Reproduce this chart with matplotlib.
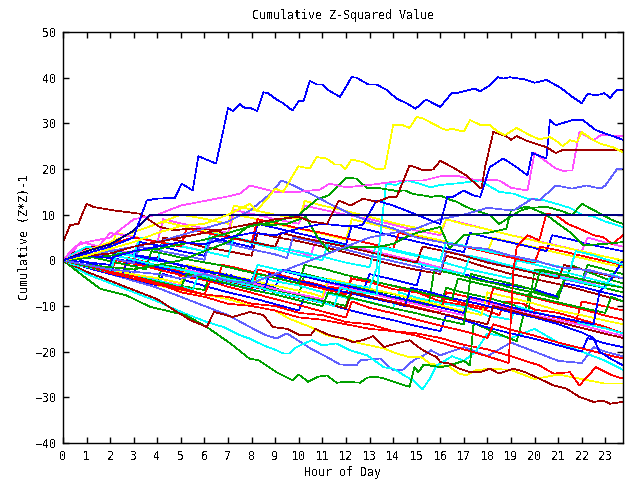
import matplotlib
matplotlib.use("Agg")
import matplotlib.pyplot as plt

plt.rcParams['font.family'] = ['DejaVu Sans Mono']
plt.rcParams['text.antialiased'] = False

BLUE = '#0000ff'; RED = '#ff0000'; DKRED = '#a00000'; GREEN = '#00a000'
CYAN = '#00ffff'; YELLOW = '#ffff00'; MAGENTA = '#ff50ff'; PERI = '#6060ff'; NAVY = '#000080'

TITLE = "Cumulative Z-Squared Value"
XLABEL = "Hour of Day"
YLABEL = "Cumulative (Z*Z)-1"
XTICKS = list(range(0, 24))
YTICKS = list(range(-40, 51, 10))

# ---- distinct series (hour, value) ----
blue_top_h = [0, 1, 2, 3, 3.1, 3.55, 3.97, 4.75, 5.03, 5.5, 5.74, 6.49, 6.8, 7.0, 7.2, 7.5, 7.7, 7.93, 8.24, 8.5,
              8.7, 9.06, 9.34, 9.73, 10.0, 10.2, 10.47, 10.76, 11.0, 11.3, 11.75, 12.24, 12.45, 12.95, 13.3, 13.7,
              14.15, 14.57, 14.95, 15.4, 16.0, 16.5, 16.76, 17.47, 17.68, 18.1, 18.46, 18.67, 18.96, 19.6, 20.0,
              20.5, 21.1, 21.6, 22.0, 22.25, 22.6, 22.96, 23.2, 23.5, 23.75]
blue_top_v = [0, 1.5, 3, 5, 6.6, 13.1, 13.5, 13.7, 16.8, 15.3, 22.8, 21.2, 28.5, 33.4, 32.7, 34.2, 33.4, 33.4, 32.7, 36.8,
              36.6, 35.2, 34.4, 32.8, 34.9, 34.9, 39.3, 38.5, 38.5, 37.1, 35.8, 40.1, 40.0, 38.5, 38.5, 37.4,
              35.4, 34.4, 33.2, 35.2, 33.6, 36.7, 36.7, 37.6, 37.0, 38.3, 40.1, 39.8, 40.1, 39.6, 38.9,
              39.5, 37.8, 35.8, 34.4, 36.5, 36.1, 36.6, 35.6, 37.4, 37.2]

yellow_high_h = [0, 1, 2, 3, 4, 5, 6, 7, 7.93, 8.2, 8.6, 9.0, 9.34, 9.98, 10.47, 10.76, 11.18, 11.53, 11.75, 11.96,
                 12.24, 12.73, 13.3, 13.65, 14.0, 14.36, 14.7, 15.0, 15.3, 16.1, 16.27, 16.5, 17.0, 17.26, 17.68,
                 18.1, 18.46, 18.74, 19.24, 19.8, 20.2, 20.65, 20.93, 21.2, 21.5, 21.8, 22.0, 22.5, 22.8, 23.3, 23.75]
yellow_high_v = [0, 1, 2.5, 4, 6, 7.5, 8, 10, 12.4, 10.9, 13.1, 15.7, 15.0, 20.6, 20.1, 22.6, 22.3, 21.0, 21.0, 19.9,
                 22.1, 21.5, 19.9, 20.1, 29.6, 29.7, 29.0, 31.4, 31.0, 28.8, 28.5, 28.8, 28.2, 30.7, 29.7,
                 29.6, 28.1, 27.4, 29.0, 27.4, 26.5, 27.0, 26.1, 25.0, 26.3, 25.9, 28.1, 26.3, 25.5, 24.8, 23.7]

dkred_flat_h = [0, 1, 2, 3, 4, 5, 6, 7, 8, 9, 10, 10.5, 11.2, 11.7, 12.2, 12.73, 13.3, 13.87, 14.15, 14.4, 14.7,
                15.3, 15.7, 16.0, 16.55, 17.1, 17.68, 17.75, 17.9, 18.25, 18.5, 18.8, 19.0, 19.24, 19.7, 20.5,
                20.9, 21.2, 23.75]
dkred_flat_v = [0, 1, 1.5, 3, 4, 5, 6, 7, 8, 9, 9.5, 8.5, 8.0, 13.1, 12, 13.5, 12.8, 13.9, 13.9, 17, 20.8,
                19.7, 19.9, 21.8, 20.3, 18.6, 15.9, 15.7, 20.4, 28.1, 27.7, 27.2, 26.4, 27.2, 26.1, 24.8,
                23.5, 24.2, 24.2]

navy_flat_h = [0, 1, 2, 3, 3.7, 23.75]
navy_flat_v = [0, 2, 3.5, 6.5, 10, 10]

blue_jump_h = [0, 1, 2, 3, 4, 5, 6, 7, 8, 9, 10, 11, 12, 12.7, 13.3, 14, 15, 15.7, 16.0, 16.3, 16.55, 17.0, 17.4,
               17.7, 18.1, 18.67, 19.24, 19.7, 19.9, 20.5, 20.65, 20.9, 21.6, 22.05, 22.6, 23.75]
blue_jump_v = [0, 1, 0.5, 2, 3, 4, 3.5, 5, 6, 5.5, 7, 8, 7.5, 7.7, 13.1, 12, 10, 8.5, 8.0, 13.9, 13.9, 15.3, 14.2,
               13.9, 20.4, 22.3, 20.4, 18.6, 23.5, 22.3, 30.7, 29.6, 30.7, 30.7, 28.5, 26.4]

magenta_high_h = [0, 0.5, 1, 2, 3, 4, 5, 6, 7, 7.5, 7.93, 9, 10, 10.9, 11.3, 12, 13, 13.87, 14.57, 15.3, 16.0,
                  16.8, 17.4, 18.5, 19.0, 19.7, 20.0, 20.9, 21.2, 21.6, 21.9, 22.5, 22.8, 23.75]
magenta_high_v = [0, 3, 4, 5, 9, 10, 12, 13, 14, 14.6, 16.4, 15, 15, 15.5, 16.8, 16, 16.5, 17.1, 17.5, 17.5, 18.4,
                  18.4, 17.7, 17.5, 15.9, 15.3, 23.5, 20.1, 19.6, 19.7, 28.1, 26.3, 27.4, 27.2]

peri_end_h = [0, 1, 2, 3, 4, 5, 6, 7, 8, 9, 10, 11, 12, 13, 14, 15, 16, 17, 18, 19.1, 19.9, 20.2, 20.9, 21.6,
              22.2, 22.8, 23.0, 23.5, 23.75]
peri_end_v = [0, -1, -2, -2.5, -3, -4, -3, -4.5, -5, -3, -1, 1, 3, 5, 6, 7, 9, 10, 11.5, 10.9, 13.5, 13.1, 16.4,
              15.7, 16.4, 15.7, 16.4, 20.0, 20.1]

peri_peak_h = [0, 1, 2, 3, 4, 5, 6, 7, 7.93, 8.8, 9.27, 9.77, 10.76, 11.3, 11.9, 12.3, 13, 14, 15, 16, 17, 18,
               19, 20, 21, 22, 23, 23.75]
peri_peak_v = [0, 1, 2, 3, 4, 5.5, 7, 8.5, 10.9, 14.6, 17.5, 16.4, 13.9, 12.4, 10.9, 9.9, 8.5, 7, 5, 4, 3, 2.5,
               1, 0, -1.5, -2, -3, -4]

green_mid_h = [0, 1, 2, 3, 4, 5, 6, 7, 8, 9, 10, 10.76, 11.25, 12.0, 12.45, 12.87, 13.3, 14.15, 14.5, 14.86,
               15.3, 15.6, 16.0, 16.4, 16.7, 17.1, 17.5, 18.1, 18.5, 19.4, 19.8, 20.5, 21.1, 21.6, 22.0, 22.9,
               23.3, 23.75]
green_mid_v = [0, 0.5, 1, 2, 2.5, 3.5, 4.5, 6, 7.5, 8.5, 10, 13.3, 14.2, 18.1, 17.9, 15.9, 15.9, 15.2, 15.3, 14.5,
               14.2, 13.9, 14.2, 13.3, 12.8, 11.7, 10.9, 9.9, 8.0, 10.9, 11.5, 11.7, 10.9, 9.9, 12.4, 9.9,
               8.8, 8.0]

green_j19_h = [0, 1, 2, 3, 4, 5, 6, 7, 8, 8.8, 9.5, 10.3, 10.8, 11.3, 12.17, 13.3, 14.0, 14.5, 15, 16.0, 16.4,
               17.0, 18.0, 18.8, 19.0, 19.7, 20.5, 21.0, 21.6, 22.05, 23.0, 23.75]
green_j19_v = [0, -1, -1.5, -2, -1, 0, 2, 4, 8, 7.7, 8, 9.5, 5, 1.8, 2.9, 2.9, 3.6, 5, 6, 7.3, 2.6,
               5.5, 6, 6.9, 10.9, 11.8, 10, 8, 5.8, 3.3, 3.6, 4.0]

red_j19_h = [0, 1, 2, 3, 4, 5, 6, 7, 8, 9, 10, 11, 12, 13, 14, 15, 16, 17, 18, 18.9, 19.1, 19.24, 19.7, 20.2,
             20.5, 20.9, 21.4, 22.05, 22.5, 22.9, 23.3, 23.75]
red_j19_v = [0, -1, -2.5, -3.5, -5, -6, -7.5, -8, -9.5, -10, -11.5, -12, -13.5, -14, -15.5, -16.5, -18, -19.5, -21,
             -22.5, -2.2, 2.9, 5.5, 4.4, 10.2, 9.9, 8.0, 6.6, 5.5, 5.1, 3.6, 5.5]

green_bot_h = [0, 1, 1.57, 2.7, 3.7, 5.2, 6.1, 7.1, 7.9, 8.3, 9.06, 9.74, 10.0, 10.4, 10.8, 11.2, 11.6, 12.0,
               12.6, 12.9, 13.2, 13.5, 14.15, 14.7, 14.9, 15.07, 15.3, 16.0, 16.4, 17.0, 17.26, 17.4, 17.5,
               18.1, 18.8, 19.24, 19.8, 20.2, 20.9, 21.6, 22.0, 23.0, 23.75]
green_bot_v = [0, -4, -6.2, -7.7, -10.2, -12, -14.6, -18.2, -21.5, -21.9, -24.5, -26.3, -25, -26.6, -25.5, -25.2,
               -26.8, -26.6, -26.8, -25.7, -25.5, -25.7, -26.8, -27.7, -23.4, -24.5, -22.8, -23.4, -23, -22,
               -23, -14.2, -13.9, -15.3, -16.8, -17.7, -6.9, -6.9, -8, -1.1, -2, -4, -5]

cyan_bot_h = [0, 1, 2, 3, 4, 5.2, 6.1, 6.8, 7.5, 7.9, 8.5, 9.06, 9.34, 9.6, 9.9, 10.55, 11.0, 11.6, 12.17, 12.9,
              13.6, 14.0, 14.57, 14.86, 15.25, 15.56, 15.85, 16.0, 16.5, 17.0, 17.5, 18.0, 19.0, 20.0, 21.0,
              22.0, 23.0, 23.75]
cyan_bot_v = [0, -3, -5, -7, -9, -11.7, -13.5, -14.6, -16.4, -17.1, -18.6, -19.7, -20.4, -20.4, -19, -17.5,
              -18.6, -18.2, -19.7, -20.8, -23.4, -23.7, -25.5, -26.3, -28.2, -25.9, -23, -22.6, -21, -22, -20,
              -16, -17, -15, -18, -20, -22, -24]

dkred_bot_h = [0, 1, 2, 3, 4, 4.5, 5.4, 6.1, 6.4, 7.2, 7.93, 8.5, 8.9, 9.5, 10.05, 10.5, 10.7, 11.3, 11.9, 12.3,
               12.7, 13.16, 13.6, 14.15, 14.7, 15.07, 15.4, 15.85, 16.0, 16.4, 16.8, 17.26, 17.7, 18.1, 18.5,
               19.1, 19.6, 20.2, 20.8, 21.35, 21.9, 22.5, 22.9, 23.2, 23.75]
dkred_bot_v = [0, -2.5, -4.5, -6.5, -8.5, -10.2, -13.1, -14.6, -11.3, -12.4, -11.3, -12, -14.6, -15, -16.4,
               -16.4, -15, -16.4, -17.1, -17.9, -17.5, -16.6, -19, -18.2, -17.5, -19, -20.1, -21.2, -22.3,
               -22.6, -23.7, -24.5, -24.5, -23.7, -24.8, -23.7, -24.5, -25.9, -27.4, -28.1, -29.9, -31.0,
               -30.7, -31.4, -31.0]

peri_low_h = [0, 1, 2, 3, 4, 5, 6, 7, 8.07, 8.6, 9.06, 9.5, 10.5, 11.2, 11.75, 12.45, 12.6, 13.45, 14.0, 14.4,
              14.86, 15.3, 15.6, 16.0, 17, 18, 19, 20, 21, 22, 22.5, 23, 23.75]
peri_low_v = [0, -1.5, -3, -4.5, -6, -8, -10, -12, -15, -16.4, -17.1, -16, -19.3, -21.2, -22.8, -23, -21.9,
              -21.5, -24.1, -24, -21.9, -20.8, -19.7, -20.8, -19, -21, -18, -20, -22, -22.5, -19, -20, -21]

yellow_low_h = [0, 1, 2, 3, 4, 5, 6, 7, 8, 9, 9.6, 10.5, 11.2, 12.17, 12.6, 13, 13.6, 14.15, 14.7, 15.2, 15.56,
                16, 16.3, 16.8, 17.1, 17.5, 18.1, 19, 20, 21, 22, 23, 23.75]
yellow_low_v = [0, -1.5, -3, -4, -5.5, -6.5, -7.5, -8.5, -10, -11, -12.8, -14.6, -16.4, -17.5, -18.2, -18.6,
                -19.3, -20.4, -21.2, -21.2, -22.6, -23, -23, -24.8, -25.2, -24.1, -23.7, -24, -26, -25, -26,
                -27, -27]

red_low_h = [0, 1, 2, 3, 4, 5, 6, 7, 8, 9, 10, 11, 12, 13, 14, 15, 16, 17, 18, 19, 20.2, 20.8, 21.5, 21.9, 22.6,
             23.3, 23.75]
red_low_v = [0, -1, -2.5, -4, -5, -7, -8, -9.5, -10, -11, -12.5, -13, -14, -15, -15.5, -16, -17, -18.5, -19.5,
             -21, -23, -24.8, -24.5, -27.4, -23.4, -25.2, -25.9]

# ---- middle bundle, (hour, value) pairs ----
mr_a = [(0,0),(0.5,-0.8),(1,-1.1),(1.5,-2),(2,-2.5),(2.25,0),(3,-0.6),(4,-1.9),(4.5,-1.5),(5,-3.5),(6,-4.2),(6.5,-5),(6.75,-1),(7.5,-1.8),(8,-2.5),(9,-3.9),(10,-5),(11,-5.6),(12,-7.5),(12.25,-4),(13,-4.8),(14,-6.3),(15,-7),(16,-9),(17,-9.8),(18,-11),(18.5,-12),(18.75,-9),(19.5,-9.5),(20,-10.8),(21,-11.5),(22,-13),(23,-14.6),(23.75,-16)]
mb_a = [(0,0),(0.5,0.6),(1,-0.5),(2,-1.8),(3,-3),(3.25,1),(4,0.4),(5,-1.2),(6,-2.5),(7,-3.1),(8,-4.6),(9,-6),(9.25,-2),(10,-2.8),(11,-4),(12,-5.2),(12.75,-6.5),(13,-3),(14,-4.2),(15,-5.5),(15.25,-1),(16,-1.9),(17,-3),(18,-4.6),(19,-5.5),(20,-6.4),(21,-8),(21.25,-5),(22,-5.8),(23,-7.1),(23.75,-8)]
mg_a = [(0,0),(0.5,-0.9),(1.5,-2),(2.5,-2.6),(3.5,-3.9),(4,-4.5),(4.25,-1),(5,-1.7),(6,-3),(7,-3.6),(8,-5),(9,-6.2),(10,-7.5),(10.25,-3),(11,-3.9),(12,-5.3),(13,-6.5),(14,-7.4),(15,-8.7),(16,-10),(16.25,-6),(17,-7.1),(18,-8.2),(19,-9.6),(19.75,-11),(20,-2),(21,-3.2),(22,-4.5),(22.25,-1),(23,-2),(23.75,-3)]
mc_a = [(0,0),(0.5,-1.1),(1,-1.4),(2,-2.5),(2.25,1),(3,0.2),(4,-1.5),(5,-2.1),(5.5,-3),(6.5,-4.4),(7.5,-5.3),(8,-6),(8.25,-3.5),(9,-4.6),(10,-5.5),(11,-7),(12,-8.2),(13,-9.1),(14,-10.5),(14.25,-7),(15,-8.2),(16,-9.3),(17,-10.2),(17.5,-11),(18,-12.1),(19,-13),(19.25,-10),(20,-11.3),(21,-12.6),(22,-13.8),(23,-14.9),(23.75,-16)]
mm_a = [(0,0),(0.5,2.5),(0.75,4),(1.5,3.1),(2,2.6),(3,1.5),(3.25,5),(4,4.1),(5,3.2),(6,2),(6.25,6),(7,5.3),(8,3.9),(9,3),(10,1.8),(10.5,1),(10.75,5),(12,3.4),(13,2.2),(14,1),(15,-0.2),(16,-1.6),(17,-3),(17.25,1),(18,0.2),(19,-1.3),(20,-2.5),(21,-3.4),(22,-4.6),(23,-5.3),(23.75,-6)]
my_a = [(0,0),(0.5,1.4),(1,3),(2,2),(2.25,6),(3,5.2),(4,4),(4.25,8.5),(5,7.6),(6,6.4),(7,5.5),(7.25,10),(8,9.3),(9,8),(10,6.9),(11,5.8),(12,4.5),(12.25,9),(13,8.1),(14,6.7),(15,5.5),(16,4.4),(17,3),(18,1.8),(18.25,5),(19,4),(20,2.9),(21,1.6),(22,0.5),(23,-0.7),(23.75,-1.5)]
mr_b = [(0,0),(0.5,-0.7),(1.5,-1.9),(2.5,-3),(2.75,0.5),(3.5,-0.4),(4.5,-1.8),(5,-2.5),(6,-4),(7,-5.1),(8,-6.5),(8.25,-2),(9,-2.9),(10,-4.3),(11,-5.5),(12,-6.4),(13,-7.9),(13.5,-8.5),(14.5,-9.6),(15.5,-10.9),(16,-11.5),(16.25,-7),(17,-7.8),(18,-9.1),(19,-10.5),(20,-11.4),(21,-12.6),(21.75,-13.5),(22,-9),(23,-10.1),(23.75,-11)]
md_a = [(0,0),(0.5,1.8),(1.25,3),(2,2.1),(3,1.1),(4,0),(4.25,5),(5,4.2),(6,2.9),(7,2),(8,1),(8.25,6),(9,5.1),(10,4.2),(11,3),(12,1.7),(13,0.4),(14,-1),(15,-2.1),(16,-3),(16.25,1),(17,0),(18,-1.6),(19,-3),(20,-4.1),(21,-5.2),(22,-6.5),(23,-7.9),(23.75,-9)]
mb_b = [(0,0),(0.5,0.7),(1,1.5),(2,0.6),(3,-0.5),(3.25,4),(4,3.3),(5,2),(6,1),(6.25,5),(7,4.1),(8,2.9),(8.25,8),(9,7.1),(10,5.9),(11,4.7),(12,3.5),(12.25,7.5),(13,6.6),(14,5.3),(15,4.1),(16,2.9),(17,1.8),(17.25,6),(18,5),(19,3.9),(20,2.7),(20.5,2),(20.75,5.5),(21.5,4.6),(22.5,3.3),(23.75,2)]
mc_b = [(0,0),(1,1.3),(2,2),(3,0.8),(4,-0.3),(4.25,4),(5,3.1),(6,2),(7,0.8),(7.25,5),(8,4.2),(9,2.9),(10,2),(11,0.8),(12,-0.5),(13,-1.5),(13.25,3),(14,2.1),(15,0.9),(16,-0.2),(16.5,-1),(17.5,-2.3),(18.5,-3.4),(19,-4),(19.25,0),(20,-0.9),(21,-2.2),(22,-3.5),(23,-4.9),(23.75,-6)]
mg_b = [(0,0),(1,-1.3),(2,-2.4),(3,-3.5),(4,-4.4),(5,-5.6),(6,-6.5),(6.25,-3),(7,-4),(8,-5.3),(9,-6.5),(10,-7.6),(11,-8.8),(12,-10),(12.25,-6),(13,-7.1),(14,-8.2),(15,-9.4),(15.5,-10),(15.75,-2),(16.5,-2.9),(17.5,-4.2),(18.5,-5.3),(19,-6),(20,-7.1),(21,-8.5),(21.25,-4),(22,-5),(23,-6.1),(23.75,-7)]
mm_b = [(0,0),(1,-1.1),(2,-2.3),(3,-3),(4,-4.4),(5,-5.5),(5.25,-2),(6,-2.9),(7,-4.1),(8,-5),(9,-6.3),(10,-7.4),(11,-8.5),(11.25,-5),(12,-5.9),(13,-7.2),(14,-8.5),(15,-9.6),(16,-10.9),(17,-12),(17.25,-8.5),(18,-9.3),(19,-10.8),(20,-12),(21,-13.1),(22,-14.2),(23,-15.6),(23.75,-16.5)]
my_b = [(0,0),(1,-1.2),(2,-2),(3,-3.1),(4,-3.9),(5,-5),(5.25,-1),(6,-1.9),(7,-3.2),(8,-4.3),(8.5,-5),(9.5,-6.1),(10.5,-7.2),(11,-8),(11.25,-4),(12,-4.9),(13,-6.2),(14,-7.3),(14.5,-8),(15.5,-9.2),(16.5,-10.5),(17.75,-12),(18,-7),(19,-8.2),(20,-9.5),(21,-11),(22,-12),(23,-13.2),(23.75,-14)]
mr_c = [(0,0),(0.75,0.6),(1.5,1),(2.5,-0.2),(3.5,-1.3),(4,-2),(5,-3.2),(6,-4.3),(6.5,-5),(6.75,-1),(7.5,-1.9),(8.5,-3.2),(9.5,-4.5),(10.5,-5.6),(11.5,-6.8),(12,-7.5),(12.25,-3.5),(13,-4.4),(14,-5.6),(15,-7),(16,-8.1),(17,-9.4),(18,-10.5),(18.25,-6),(19,-7),(20,-8.2),(21,-9.5),(22,-10.7),(23,-12.1),(23.75,-13)]
mb_c = [(0,0),(1,-1.2),(2,-2.3),(2.5,-3),(2.75,0),(3.5,-0.9),(4.5,-2.1),(5.5,-3.5),(6.5,-4.6),(7.5,-5.8),(8.5,-7),(8.75,-3),(9.5,-3.9),(10.5,-5.1),(11.5,-6.4),(12,-7),(13,-8.2),(14,-9.3),(14.5,-10),(14.75,-6),(15.5,-6.9),(16.5,-8.3),(17.5,-9.4),(18,-10),(19,-11.4),(20,-12.5),(21,-14),(22,-15.8),(22.5,-17),(22.75,-20),(23.25,-21.6),(23.75,-23)]
mp_a = [(0,0),(0.5,0.8),(1,1.5),(2,0.5),(3,-0.6),(3.25,3),(4,2.2),(5,1.2),(6,0.1),(6.25,4.5),(7,3.6),(8,2.4),(9,1.3),(9.5,0.5),(9.75,5),(10.5,4.2),(11.5,2.9),(12.5,1.7),(13,1),(14,-0.2),(15,-1.4),(16,-2.5),(16.25,2),(17,1.1),(18,-0.1),(19,-1.5),(20,-2.6),(21,-3.8),(22,-5),(22.25,-2),(23,-3.1),(23.75,-4)]
md_b = [(0,0),(1,-1.3),(2,-2.4),(3,-3.5),(4,-4.6),(5,-5.8),(5.5,-6.5),(5.75,-3),(6.5,-3.9),(7.5,-5.2),(8.5,-6.3),(9,-7),(10,-8.2),(11,-9.3),(12,-10.5),(12.25,-7),(13,-7.9),(14,-9.2),(15,-10.5),(16,-11.6),(17,-12.8),(18,-14),(18.25,-10),(19,-11),(20,-12.3),(21,-13.5),(22,-14.8),(23,-16.1),(23.75,-17)]
mg_c = [(0,0),(0.5,0.6),(1,1),(2,-0.2),(3,-1.3),(3.5,-2),(3.75,2),(4.5,1.2),(5.5,0),(6.5,-0.9),(7,-1.5),(8,-2.7),(9,-3.8),(10,-5),(10.25,-1),(11,-1.8),(12,-3.2),(13,-4.3),(13.5,-5),(14.5,-6.1),(15.5,-7.4),(16.5,-8.5),(16.75,-4),(17.5,-4.9),(18.5,-6.1),(19.5,-7.4),(20,-8),(21,-9.2),(22,-10.4),(23,-11.5),(23.25,-8),(23.75,-9)]
mb_d = [(0,0),(1,-0.4),(2,-1),(2.25,2),(3,1.1),(4,0),(5,-1),(6,-2.2),(7,-3.3),(8,-4.5),(8.25,-1),(9,-1.9),(10,-3.2),(11,-4.5),(12,-5.6),(13,-6.8),(14,-8),(15,-9.1),(16,-10.3),(17,-11.5),(17.25,-8),(18,-8.9),(19,-10.2),(20,-11.5),(21,-12.4),(22,-13.5),(22.5,-14),(22.75,-7),(23.25,-4),(23.75,0)]
mc_c = [(0,0),(0.5,1.6),(1,3),(2,2.1),(3,1),(3.25,5),(4,4.1),(5,3),(6,2),(6.25,6),(7,5.2),(8,3.8),(9,2.5),(10,1.2),(11,0),(11.25,4),(12,3.1),(13,1.8),(14,0.5),(15,-0.6),(16,-1.9),(17,-3),(17.25,1),(18,0.1),(19,-1.2),(20,-2.5),(21,-3.6),(22,-4.8),(23,-6),(23.25,-3),(23.75,-4)]
mm_c = [(0,0),(0.75,1.8),(1.5,3),(2,6),(3,5.1),(4,4),(4.25,9),(5,8.1),(6,7),(7,6),(7.25,11),(8,10.2),(9,9),(10,8),(10.25,12),(11,11.1),(12,10),(13,9),(14,7.8),(15,6.5),(16,5.5),(16.25,9),(17,8.1),(18,6.8),(19,5.5),(20,4.4),(21,3.2),(22,2),(22.25,5),(23,3.9),(23.75,3)]
my_c = [(0,0),(1,2.1),(2,4),(3,6.2),(4,8),(5,10),(6,9.1),(7,8),(7.25,12),(8,11.1),(9,10),(10,9),(10.25,13),(11,12),(12,10.8),(13,9.5),(14,8.2),(15,7.1),(16,6),(16.25,9),(17,7.9),(18,6.8),(19,5.5),(20,4.3),(21,3.1),(22,2),(23,0.8),(23.75,0)]
mr_d = [(0,0),(1,2),(2,3.6),(3,5),(4,4.1),(5,3),(5.25,7),(6,6.1),(7,5),(8,4),(8.25,9),(9,8.2),(10,7),(11,6),(12,4.8),(13,3.7),(14,2.5),(14.25,6),(15,5.1),(16,4),(17,3),(18,1.8),(19,0.6),(20,-0.5),(20.25,3),(21,2.2),(22,1),(23,-0.2),(23.75,-1)]
md_c = [(0,4),(0.3,7.7),(0.65,8),(1,12.4),(1.28,11.7),(2.2,10.9),(3.27,10.2),(4.1,7.3),(4.7,6.6),(5.5,7),(6.5,6.6),(7.1,5.1),(8,4),(9,3),(9.25,6),(10,5.1),(11,4),(12,3),(13,1.8),(14,0.6),(15,-0.5),(15.25,3),(16,2.2),(17,1),(18,-0.5),(19,-1.6),(20,-2.8),(21,-4),(21.25,-1),(22,-2),(23,-3.2),(23.75,-4)]
mc_d = [(0,0),(1,-1.1),(2,-2),(2.25,1),(3,0.1),(4,-1.1),(5,-2),(6,-3.2),(7,-4.1),(8,-5),(8.25,-1),(9,-1.9),(10,-3),(11,-4),(12,-5.1),(13,-6),(13.3,-1.8),(13.7,16.8),(14.1,16.5),(14.6,17.5),(15.1,16.8),(15.6,16),(16,16.5),(16.8,16.9),(17.7,17.5),(18.1,16.2),(18.5,15),(19.1,14.6),(19.7,13.5),(20.3,13.3),(20.9,12.4),(21.5,11.5),(22,10),(22.5,9.6),(23,8.5),(23.75,7.3)]
mc_e = [(0,0),(1,-1.2),(2,-2.4),(3,-3.5),(4,-4.4),(5,-5.7),(5.5,-6.5),(5.75,-3),(6.5,-3.9),(7.5,-5),(8.5,-6.2),(9,-7),(10,-8.1),(11,-9.3),(11.5,-10),(11.75,-6),(12.5,-6.9),(13.3,-7.5),(13.5,3),(14.5,1.8),(15.5,0.6),(16,0),(16.25,4),(17,3.2),(18,2),(19,1),(20,-0.2),(21,-1.3),(21.5,-2),(21.75,2),(22.5,1.1),(23.75,-1)]
mg_d = [(0,0),(1,-1.2),(2,-2.5),(2.5,-3),(3.5,-4.1),(4.5,-5.3),(5,-6),(5.25,-3),(6,-3.9),(7,-5.1),(8,-6.5),(9,-7.5),(10,-8.8),(11,-10),(11.25,-7),(12,-7.9),(13,-9.2),(14,-10.5),(15,-11.6),(16,-12.9),(17,-14),(17.3,-3),(18,-3.9),(19,-5.1),(20,-6.5),(20.25,-2),(21,-2.9),(22,-4.2),(23,-5.3),(23.75,-6)]
lb = [(0,0),(1,-1.6),(2,-3),(3,-4.1),(4,-5.5),(4.25,-3),(5,-4.1),(6,-5.6),(7,-7),(8,-8.2),(9,-9.6),(10,-11),(10.25,-8),(11,-9.2),(12,-10.7),(13,-12),(14,-13.1),(15,-14.4),(16,-15.5),(16.25,-12),(17,-13.1),(18,-14.7),(19,-16),(20,-17.2),(21,-18.6),(22,-20),(22.25,-17),(23,-18.2),(23.75,-19)]
lr = [(0,0),(1,-1.4),(2,-2.8),(3,-4),(4,-5.3),(5,-6.4),(6,-7.5),(6.25,-4.5),(7,-5.8),(8,-7.1),(9,-8.5),(10,-9.8),(11,-11.2),(12,-12.5),(12.25,-9),(13,-10.4),(14,-11.6),(15,-13),(16,-14.3),(17,-15.5),(18,-17),(18.25,-14),(19,-15.2),(20,-16.5),(21,-18),(22,-19.3),(23,-20.6),(23.75,-21.5)]

lower = [
    (peri_low_h, peri_low_v, PERI), (yellow_low_h, yellow_low_v, YELLOW), (red_low_h, red_low_v, RED),
    (cyan_bot_h, cyan_bot_v, CYAN), (green_bot_h, green_bot_v, GREEN), (dkred_bot_h, dkred_bot_v, DKRED),
]
middle = [
    (lb, BLUE), (lr, RED), (mr_a, RED), (mb_a, BLUE), (mg_a, GREEN), (mc_a, CYAN), (mm_a, MAGENTA),
    (my_a, YELLOW), (mr_b, RED), (md_a, DKRED), (mb_b, BLUE), (mc_b, CYAN), (mg_b, GREEN), (mm_b, MAGENTA),
    (my_b, YELLOW), (mr_c, RED), (mb_c, BLUE), (mp_a, PERI), (md_b, DKRED), (mg_c, GREEN), (mb_d, BLUE),
    (mc_c, CYAN), (mm_c, MAGENTA), (my_c, YELLOW), (mr_d, RED), (md_c, DKRED), (mc_d, CYAN), (mc_e, CYAN),
    (mg_d, GREEN),
]
upper = [
    (red_j19_h, red_j19_v, RED), (green_j19_h, green_j19_v, GREEN), (green_mid_h, green_mid_v, GREEN),
    (peri_peak_h, peri_peak_v, PERI), (peri_end_h, peri_end_v, PERI), (magenta_high_h, magenta_high_v, MAGENTA),
    (blue_jump_h, blue_jump_v, BLUE), (navy_flat_h, navy_flat_v, NAVY), (dkred_flat_h, dkred_flat_v, DKRED),
    (yellow_high_h, yellow_high_v, YELLOW), (blue_top_h, blue_top_v, BLUE),
]

fig = plt.figure(figsize=(6.4, 4.8), dpi=100)
ax = fig.add_axes([63 / 640, 37 / 480, 560 / 640, 411 / 480])

LW = 0.5
for h, v, c in lower:
    ax.plot(h, v, color=c, lw=LW, antialiased=False)
for pairs, c in middle:
    h, v = zip(*pairs)
    ax.plot(h, v, color=c, lw=LW, antialiased=False)
for h, v, c in upper:
    ax.plot(h, v, color=c, lw=LW, antialiased=False)

ax.set_xlim(0, 23.75)
ax.set_ylim(-40, 50)
ax.set_xticks(XTICKS)
ax.set_yticks(YTICKS)
ax.tick_params(direction='in', length=4, width=1, top=True, right=True, labelsize=8.4, pad=5, colors='black')
for s in ax.spines.values():
    s.set_linewidth(1)
ax.set_title(TITLE, fontsize=8.4, pad=9)
ax.set_xlabel(XLABEL, fontsize=8.4, labelpad=2)
ax.set_ylabel(YLABEL, fontsize=8.4, labelpad=3)

fig.savefig("out.png", dpi=100)
